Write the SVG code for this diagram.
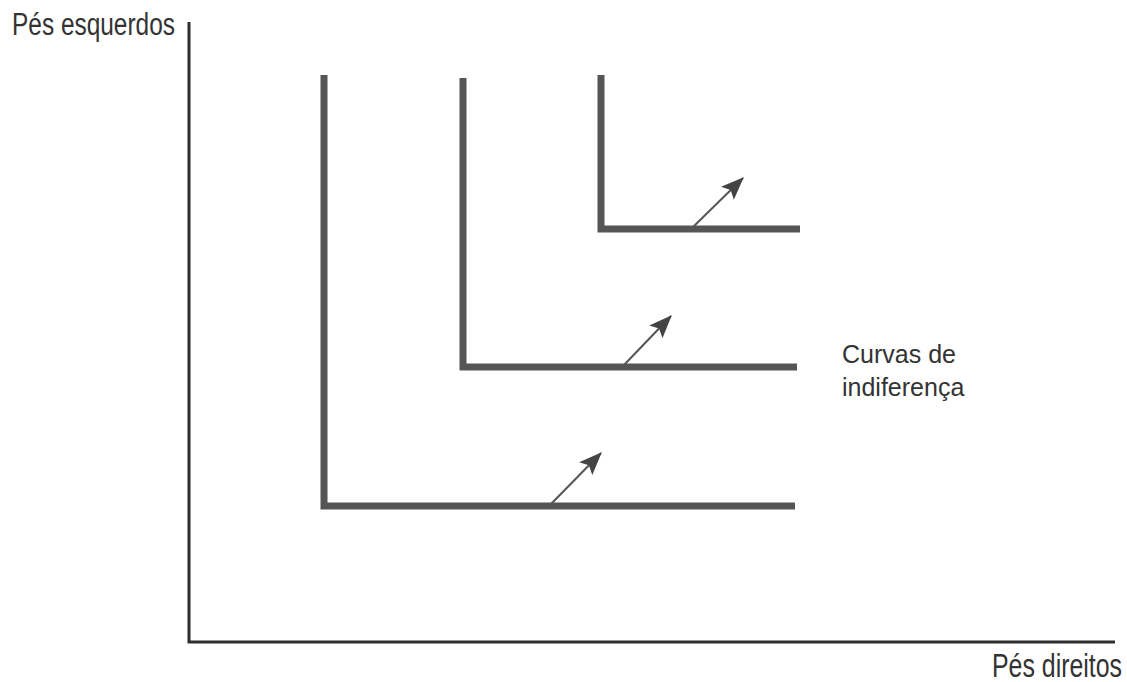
<svg xmlns="http://www.w3.org/2000/svg" width="1127" height="682" viewBox="0 0 1127 682">
<style>
.axis{stroke:#2e2e2e;stroke-width:3;fill:none}
.curve{stroke:#555;stroke-width:7;fill:none;stroke-linejoin:miter}
.arr{stroke:#555;stroke-width:2;fill:none}
.lbl{font-family:"Liberation Sans",Arial,sans-serif;fill:#333}
</style>
<defs>
<marker id="ah2" viewBox="0 0 20 16" refX="19" refY="8" markerWidth="23" markerHeight="19" markerUnits="userSpaceOnUse" orient="auto">
<path d="M0,0 L20,8 L0,16 L4,8 z" fill="#444"/>
</marker>
</defs>
<g id="axes">
<polyline class="axis" points="189,22 189,642 1115,642"/>
</g>
<g id="curve1"><polyline class="curve" points="324,75 324,506 795,506"/></g>
<g id="curve2"><polyline class="curve" points="463,78 463,367 797,367"/></g>
<g id="curve3"><polyline class="curve" points="601,75 601,229 800,229"/></g>
<g id="connectors">
<line class="arr" x1="551" y1="504" x2="601" y2="453" marker-end="url(#ah2)"/>
<line class="arr" x1="624" y1="365" x2="671" y2="316" marker-end="url(#ah2)"/>
<line class="arr" x1="692" y1="228" x2="743" y2="178" marker-end="url(#ah2)"/>
</g>
<g id="labels">
<text class="lbl" transform="translate(12,35) scale(1,1.25)" font-size="24.5" textLength="163" lengthAdjust="spacingAndGlyphs">Pés esquerdos</text>
<text class="lbl" x="842" y="363" font-size="25">Curvas de</text>
<text class="lbl" x="842" y="396" font-size="25">indiferença</text>
<text class="lbl" transform="translate(992,677) scale(1,1.32)" font-size="25" textLength="130" lengthAdjust="spacingAndGlyphs">Pés direitos</text>
</g>
</svg>
